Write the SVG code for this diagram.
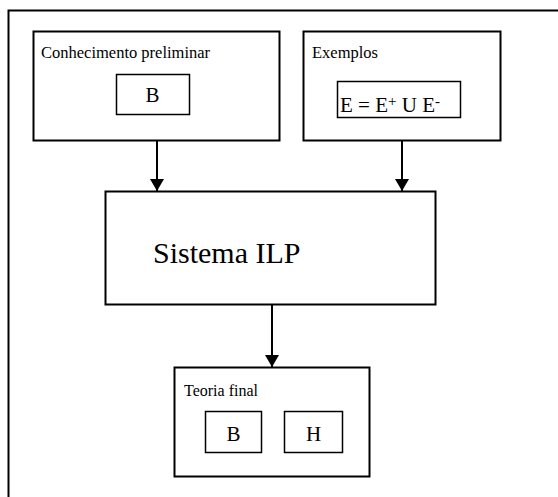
<svg xmlns="http://www.w3.org/2000/svg" width="558" height="497" viewBox="0 0 558 497">
<defs>
<style>
.box{fill:#fff;stroke:#000;stroke-width:2}
.inner{fill:#fff;stroke:#000;stroke-width:1.5}
text{font-family:'Liberation Serif','Times New Roman',Times,'DejaVu Serif',serif;fill:#000}
.conn{stroke:#000;stroke-width:2;fill:none}
</style>
<marker id="arr" markerWidth="14" markerHeight="14" refX="12" refY="7" orient="auto" markerUnits="userSpaceOnUse">
<path d="M0,0 L12,7 L0,14 Z" fill="#000"/>
</marker>
</defs>
<rect width="558" height="497" fill="#fff"/>
<g id="frame">
<path d="M8.5,497 V10.5 H558" fill="none" stroke="#000" stroke-width="2"/>
</g>
<g id="conhecimento">
<rect class="box" x="33.5" y="31.5" width="246" height="109"/>
<text x="41" y="58" font-size="16.5">Conhecimento preliminar</text>
<rect class="inner" x="116.5" y="74.5" width="73" height="40"/>
<text x="152.5" y="102" font-size="21" text-anchor="middle">B</text>
</g>
<g id="exemplos">
<rect class="box" x="303.5" y="31.5" width="197" height="109"/>
<text x="312" y="58" font-size="16.5">Exemplos</text>
<rect class="inner" x="337.5" y="81.5" width="123" height="36"/>
<text x="340" y="112" font-size="21">E = E<tspan font-size="15" dy="-6">+</tspan><tspan dy="6"> U E</tspan><tspan font-size="15" dy="-6">-</tspan></text>
</g>
<g id="sistema">
<rect class="box" x="105.5" y="191.5" width="330" height="113"/>
<text x="153" y="263" font-size="30">Sistema ILP</text>
</g>
<g id="teoria">
<rect class="box" x="174.5" y="367.5" width="195" height="109"/>
<text x="184" y="396" font-size="16">Teoria final</text>
<rect class="inner" x="205.5" y="411.5" width="56" height="41"/>
<text x="233.5" y="441" font-size="21" text-anchor="middle">B</text>
<rect class="inner" x="284.5" y="411.5" width="58" height="41"/>
<text x="313.5" y="441" font-size="21" text-anchor="middle">H</text>
</g>
<g id="connectors">
<line class="conn" x1="157" y1="141" x2="157" y2="191" marker-end="url(#arr)"/>
<line class="conn" x1="402" y1="141" x2="402" y2="191" marker-end="url(#arr)"/>
<line class="conn" x1="272" y1="305" x2="272" y2="367" marker-end="url(#arr)"/>
</g>
</svg>
